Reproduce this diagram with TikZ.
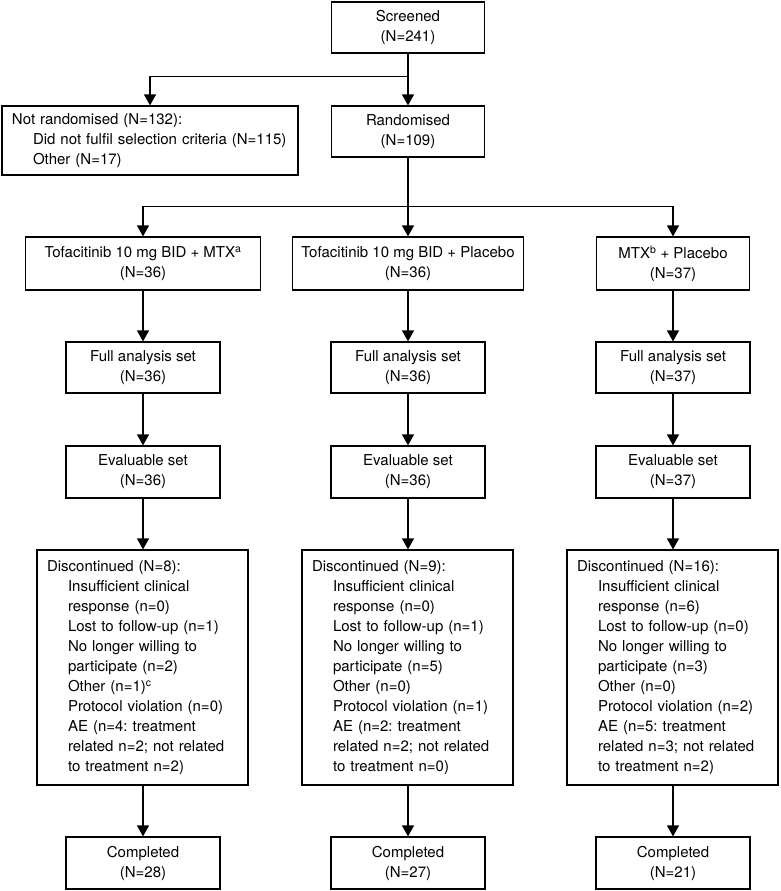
\documentclass[tikz,border=0pt]{standalone}
\usepackage{fontspec}
\setmainfont{TeX Gyre Heros}
\usetikzlibrary{arrows.meta}
\begin{document}
\frenchspacing
\begin{tikzpicture}[x=1pt,y=-1pt,
  every node/.style={font=\fontsize{15pt}{20pt}\selectfont},
  box/.style={draw, line width=1.2pt, inner sep=0pt, align=center},
  lbox/.style={draw, line width=1.2pt, inner xsep=10pt, inner ysep=0pt, align=left},
  arr/.style={line width=1.2pt, -{Triangle[width=12pt,length=11pt]}},
  ln/.style={line width=1.2pt}]
\useasboundingbox (0,0) rectangle (780,891);
% top
\node[box, minimum width=153pt, minimum height=51pt] (scr) at (408,27.5) {Screened\\(N=241)};
\node[lbox, text width=276pt, minimum width=296pt, minimum height=69pt] (notr) at (150,140.5)
  {Not randomised (N=132):\\\hspace*{21pt}Did not fulfil selection criteria (N=115)\\\hspace*{21pt}Other (N=17)};
\node[box, minimum width=153pt, minimum height=51pt] (rand) at (408,131.5) {Randomised\\(N=109)};
% treatment arms
\node[box, minimum width=235pt, minimum height=53pt] (tL) at (143,263.5) {Tofacitinib 10 mg BID + MTX\textsuperscript{a}\\(N=36)};
\node[box, minimum width=231pt, minimum height=53pt] (tM) at (408,263.5) {Tofacitinib 10 mg BID + Placebo\\(N=36)};
\node[box, minimum width=153pt, minimum height=53pt] (tR) at (673,263.5) {MTX\textsuperscript{b} + Placebo\\(N=37)};
% full analysis
\node[box, minimum width=154pt, minimum height=51pt] (fL) at (143,367.5) {Full analysis set\\(N=36)};
\node[box, minimum width=154pt, minimum height=51pt] (fM) at (408,367.5) {Full analysis set\\(N=36)};
\node[box, minimum width=154pt, minimum height=51pt] (fR) at (673,367.5) {Full analysis set\\(N=37)};
% evaluable
\node[box, minimum width=154pt, minimum height=52pt] (eL) at (143,472) {Evaluable set\\(N=36)};
\node[box, minimum width=154pt, minimum height=52pt] (eM) at (408,472) {Evaluable set\\(N=36)};
\node[box, minimum width=154pt, minimum height=52pt] (eR) at (673,472) {Evaluable set\\(N=37)};
% discontinued
\node[lbox, text width=191pt, minimum width=211pt, minimum height=235pt] (dL) at (142.5,667.5)
  {Discontinued (N=8):\\
   \hspace*{21pt}Insufficient clinical\\
   \hspace*{21pt}response (n=0)\\
   \hspace*{21pt}Lost to follow-up (n=1)\\
   \hspace*{21pt}No longer willing to\\
   \hspace*{21pt}participate (n=2)\\
   \hspace*{21pt}Other (n=1)\textsuperscript{c}\\
   \hspace*{21pt}Protocol violation (n=0)\\
   \hspace*{21pt}AE (n=4: treatment\\
   \hspace*{21pt}related n=2; not related\\
   \hspace*{21pt}to treatment n=2)};
\node[lbox, text width=191pt, minimum width=211pt, minimum height=235pt] (dM) at (407.5,667.5)
  {Discontinued (N=9):\\
   \hspace*{21pt}Insufficient clinical\\
   \hspace*{21pt}response (n=0)\\
   \hspace*{21pt}Lost to follow-up (n=1)\\
   \hspace*{21pt}No longer willing to\\
   \hspace*{21pt}participate (n=5)\\
   \hspace*{21pt}Other (n=0)\\
   \hspace*{21pt}Protocol violation (n=1)\\
   \hspace*{21pt}AE (n=2: treatment\\
   \hspace*{21pt}related n=2; not related\\
   \hspace*{21pt}to treatment n=0)};
\node[lbox, text width=191pt, minimum width=211pt, minimum height=235pt] (dR) at (672.5,667.5)
  {Discontinued (N=16):\\
   \hspace*{21pt}Insufficient clinical\\
   \hspace*{21pt}response (n=6)\\
   \hspace*{21pt}Lost to follow-up (n=0)\\
   \hspace*{21pt}No longer willing to\\
   \hspace*{21pt}participate (n=3)\\
   \hspace*{21pt}Other (n=0)\\
   \hspace*{21pt}Protocol violation (n=2)\\
   \hspace*{21pt}AE (n=5: treatment\\
   \hspace*{21pt}related n=3; not related\\
   \hspace*{21pt}to treatment n=2)};
% completed
\node[box, minimum width=154pt, minimum height=52pt] (cL) at (143,863) {Completed\\(N=28)};
\node[box, minimum width=154pt, minimum height=52pt] (cM) at (408,863) {Completed\\(N=27)};
\node[box, minimum width=154pt, minimum height=52pt] (cR) at (673,863) {Completed\\(N=21)};
% connectors
\path (scr.south) ++(0,23) coordinate (j1);
\draw[ln] (scr.south) -- (j1);
\draw[arr] (j1) -| (notr.north);
\draw[arr] (j1) -- (rand.north);
\path (rand.south) ++(0,49) coordinate (j2);
\draw[ln] (rand.south) -- (j2);
\draw[arr] (j2) -| (tL.north);
\draw[arr] (j2) -- (tM.north);
\draw[arr] (j2) -| (tR.north);
\foreach \c in {L,M,R}{
  \draw[arr] (t\c.south) -- (f\c.north);
  \draw[arr] (f\c.south) -- (e\c.north);
  \draw[arr] (e\c.south) -- (e\c.south |- d\c.north);
  \draw[arr] (c\c.north |- d\c.south) -- (c\c.north);
}
\end{tikzpicture}
\end{document}
